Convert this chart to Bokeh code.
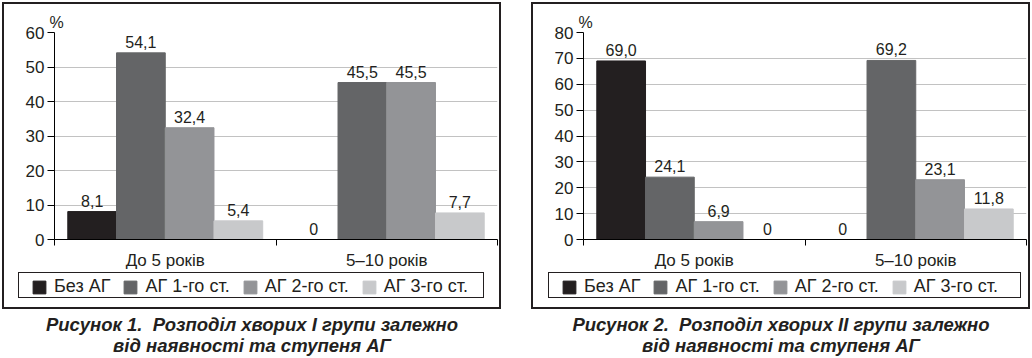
from bokeh.plotting import figure
from bokeh.models import (FixedTicker, Legend, LegendItem, Label, LabelSet,
                          ColumnDataSource, Range1d, Spacer)
from bokeh.layouts import row, column
from bokeh.embed import file_html
from bokeh.resources import INLINE
from bokeh.core.properties import value

# ---------------- data ----------------
categories = ["До 5 років", "5–10 років"]
series_names = ["Без АГ", "АГ 1-го ст.", "АГ 2-го ст.", "АГ 3-го ст."]
series_colors = ["#231f20", "#646567", "#939497", "#c8c9cb"]

# Figure 1 (group I)
fig1_values = {
    "Без АГ": [8.1, 0.0],
    "АГ 1-го ст.": [54.1, 45.5],
    "АГ 2-го ст.": [32.4, 45.5],
    "АГ 3-го ст.": [5.4, 7.7],
}
fig1_yticks = [0, 10, 20, 30, 40, 50, 60]
fig1_caption = ["Рисунок 1.\u00a0 Розподіл хворих І групи залежно",
                "від наявності та ступеня АГ"]

# Figure 2 (group II)
fig2_values = {
    "Без АГ": [69.0, 0.0],
    "АГ 1-го ст.": [24.1, 69.2],
    "АГ 2-го ст.": [6.9, 23.1],
    "АГ 3-го ст.": [0.0, 11.8],
}
fig2_yticks = [0, 10, 20, 30, 40, 50, 60, 70, 80]
fig2_caption = ["Рисунок 2.\u00a0 Розподіл хворих ІІ групи залежно",
                "від наявності та ступеня АГ"]

FONT = "Liberation Sans"
TXT = "#231f20"
CW = 495                  # inner width of the boxed panel
FL, FR = 50, 493          # frame left / right
FT, FB = 28, 240          # frame top / bottom
CH = 268                  # chart canvas height
LHT = 26                  # legend box inner height
BAR_W = 0.22


def fmt(v):
    return "0" if v == 0 else f"{v:.1f}".replace(".", ",")


def make_chart(values, yticks):
    ymax = yticks[-1]
    p = figure(width=CW, height=CH, output_backend="svg", toolbar_location=None,
               x_range=Range1d(0, len(categories)), y_range=Range1d(0, ymax),
               min_border_left=FL, min_border_right=CW - FR,
               min_border_top=FT, min_border_bottom=CH - FB)
    p.outline_line_color = None
    p.border_fill_color = "white"

    for j, name in enumerate(series_names):
        vals = values[name]
        xs = [i + 0.5 + (j - 1.5) * BAR_W for i in range(len(categories))]
        src = ColumnDataSource(dict(x=xs, top=vals, lab=[fmt(v) for v in vals]))
        p.vbar(x="x", top="top", bottom=0, width=BAR_W, source=src,
               fill_color=series_colors[j], line_color=series_colors[j], line_width=1)
        p.add_layout(LabelSet(x="x", y="top", text="lab", source=src, text_align="center",
                              text_baseline="alphabetic", y_offset=5,
                              text_font=value(FONT), text_font_size="16px", text_color=TXT))

    # "%" as title
    p.title.text = "%"
    p.title.align = "left"
    p.title.offset = -5
    p.title.standoff = 3
    p.title.text_font = FONT
    p.title.text_font_size = "16px"
    p.title.text_font_style = "normal"
    p.title.text_color = TXT

    # y axis
    p.yaxis.ticker = FixedTicker(ticks=yticks, minor_ticks=[])
    p.yaxis.axis_line_color = "black"
    p.yaxis.major_tick_line_color = "black"
    p.yaxis.major_tick_out = 7
    p.yaxis.major_tick_in = 0
    p.yaxis.minor_tick_line_color = None
    p.yaxis.major_label_standoff = 3
    p.yaxis.major_label_text_font = FONT
    p.yaxis.major_label_text_font_size = "17px"
    p.yaxis.major_label_text_color = TXT

    # x axis: labels centred in categories, ticks at category boundaries
    centers = [i + 0.5 for i in range(len(categories))]
    bounds = list(range(len(categories) + 1))
    p.xaxis.ticker = FixedTicker(ticks=centers, minor_ticks=bounds)
    p.xaxis.major_label_overrides = {c: lab for c, lab in zip(centers, categories)}
    p.xaxis.axis_line_color = "black"
    p.xaxis.major_tick_line_color = None
    p.xaxis.major_tick_out = 0
    p.xaxis.major_tick_in = 0
    p.xaxis.minor_tick_line_color = "black"
    p.xaxis.minor_tick_out = 6
    p.xaxis.minor_tick_in = 0
    p.xaxis.major_label_standoff = 5
    p.xaxis.major_label_text_font = FONT
    p.xaxis.major_label_text_font_size = "17px"
    p.xaxis.major_label_text_color = TXT

    p.xgrid.grid_line_color = None
    p.ygrid.grid_line_color = "#c2c2c2"
    p.ygrid.grid_line_width = 1
    return p


def make_legend_box(values, lw):
    # legend box: same series, drawn into a y-range far above the data so only the legend shows
    lf = figure(width=lw, height=LHT, output_backend="svg", toolbar_location=None,
                x_range=Range1d(0, len(categories)), y_range=Range1d(1000, 1001),
                x_axis_type=None, y_axis_type=None,
                min_border_left=12, min_border_right=0, min_border_top=3, min_border_bottom=0,
                styles={"border": "1px solid #231f20"})
    lf.outline_line_color = None
    lf.xgrid.grid_line_color = None
    lf.ygrid.grid_line_color = None
    rs = []
    for j, name in enumerate(series_names):
        vals = values[name]
        xs = [i + 0.5 + (j - 1.5) * BAR_W for i in range(len(categories))]
        rs.append(lf.vbar(x=xs, top=vals, bottom=0, width=BAR_W,
                          fill_color=series_colors[j], line_color=series_colors[j]))
    legend = Legend(items=[LegendItem(label=n, renderers=[r]) for n, r in zip(series_names, rs)],
                    orientation="horizontal", location="top_left",
                    padding=0, spacing=12, label_standoff=7, glyph_width=16, glyph_height=16,
                    label_height=19, label_text_font=FONT, label_text_font_size="18px",
                    label_text_color=TXT, border_line_color=None,
                    background_fill_alpha=0, margin=0)
    lf.add_layout(legend, "center")
    return lf


def make_caption(lines, w, h):
    c = figure(width=w, height=h, output_backend="svg", toolbar_location=None,
               x_range=Range1d(0, w), y_range=Range1d(h, 0),
               x_axis_type=None, y_axis_type=None,
               min_border_left=0, min_border_right=0, min_border_top=0, min_border_bottom=0)
    c.outline_line_color = None
    c.xgrid.grid_line_color = None
    c.ygrid.grid_line_color = None
    for k, line in enumerate(lines):
        c.add_layout(Label(x=w / 2, y=15 + 21 * k, text=line, text_align="center",
                           text_baseline="middle", text_font=FONT, text_font_size="18.5px",
                           text_font_style="bold italic", text_color=TXT))
    return c


def make_panel(values, yticks, caption, lx, lw):
    chart = make_chart(values, yticks)
    lbox = make_legend_box(values, lw)
    boxed = column(chart, row(Spacer(width=lx, height=LHT + 2), lbox), Spacer(width=CW, height=7),
                   styles={"border": "2px solid #231f20"})
    cap = make_caption(caption, CW + 4, 49)
    return column(boxed, cap)


panel1 = make_panel(fig1_values, fig1_yticks, fig1_caption, 14, 466)
panel2 = make_panel(fig2_values, fig2_yticks, fig2_caption, 15, 473)

layout = column(Spacer(width=10, height=2),
                row(Spacer(width=2, height=10), panel1, Spacer(width=30, height=10), panel2))
open("out.html", "w").write(file_html(layout, INLINE))
